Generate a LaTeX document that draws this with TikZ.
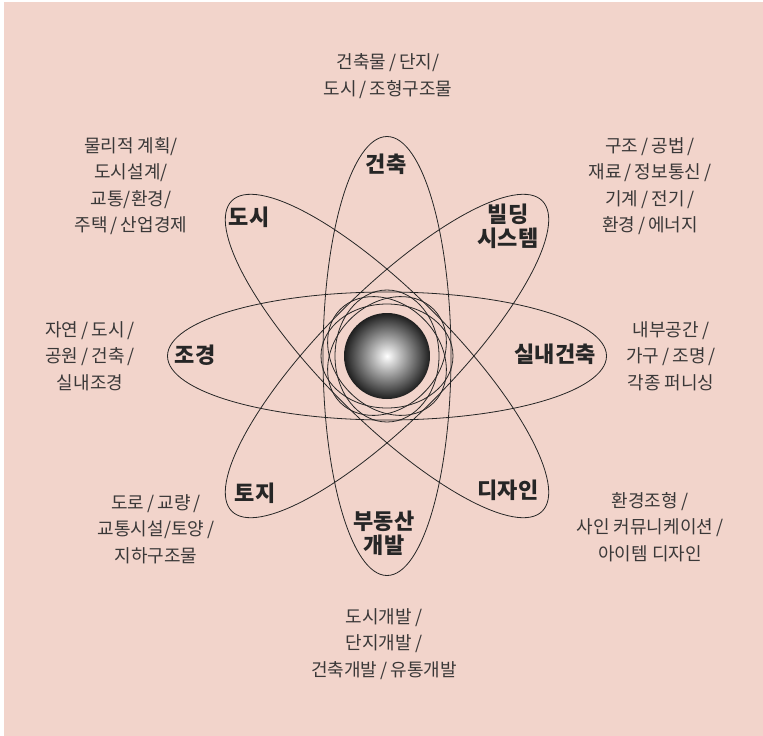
\documentclass[tikz,border=0pt]{standalone}
\usepackage{fontspec}
\newfontfamily\kr{Noto Sans CJK KR}
\definecolor{bgpink}{RGB}{242,212,203}
\definecolor{txtgray}{RGB}{58,56,56}
\tikzset{
    orbit/.style={draw=black!85, line width=0.8pt},
    field/.style={font=\kr\bfseries\fontsize{22}{24}\selectfont, text=black!85, align=center},
    topic/.style={font=\kr\fontsize{18}{26.5}\selectfont, text=txtgray, align=center}
}
\begin{document}
\begin{tikzpicture}[x=1pt, y=-1pt]
    \useasboundingbox (0,0) rectangle (763,736);
    \fill[white] (0,0) rectangle (763,736);
    \fill[bgpink] (4,2) rectangle (763,736);

    \coordinate (c) at (387,356);
    % four big orbits and four small ones round the nucleus
    \foreach \ang in {0,45,90,135} {
        \draw[orbit, rotate around={\ang:(c)}] (c) ellipse (219.5 and 64);
        \draw[orbit, rotate around={\ang:(c)}] (c) ellipse (66 and 52);
    }

    % nucleus
    \shade[inner color=white, outer color=black!88] (c) circle (43);

    % fields on the orbits
    \node[field] (arch) at (386,164) {건축};
    \node[field] (bldg) at (508,226) {빌딩\\시스템};
    \node[field] (city) at (249,217) {도시};
    \node[field] (land) at (195,355) {조경};
    \node[field] (intr) at (555,354) {실내건축};
    \node[field] (site) at (255,493) {토지};
    \node[field] (dsgn) at (508,490) {디자인};
    \node[field] (devl) at (384,533) {부동산\\개발};

    % topics outside
    \node[topic] (archt) at (388,76) {건축물\,/\,단지/\\도시\,/\,조형구조물};
    \node[topic] (cityt) at (131,186) {물리적 계획/\\도시설계/\\교통/환경/\\주택\,/\,산업경제};
    \node[topic] (bldgt) at (650,186) {구조\,/\,공법\,/\\재료\,/\,정보통신\,/\\기계\,/\,전기\,/\\환경\,/\,에너지};
    \node[topic] (landt) at (90,356) {자연\,/\,도시\,/\\공원\,/\,건축\,/\\실내조경};
    \node[topic] (intrt) at (671,356) {내부공간\,/\\가구\,/\,조명\,/\\각종 퍼니싱};
    \node[topic] (sitet) at (156,529) {도로\,/\,교량\,/\\교통시설/토양\,/\\지하구조물};
    \node[topic] (dsgnt) at (650,527) {환경조형\,/\\사인 커뮤니케이션\,/\\아이템 디자인};
    \node[topic] (devlt) at (384,644) {도시개발\,/\\단지개발\,/\\건축개발\,/\,유통개발};
\end{tikzpicture}
\end{document}
